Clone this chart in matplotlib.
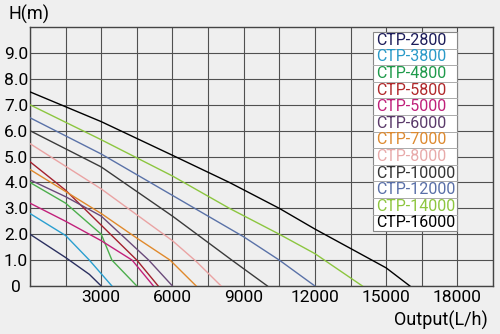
import matplotlib
matplotlib.use("Agg")
import matplotlib.pyplot as plt
from matplotlib.patches import Rectangle

plt.rcParams['font.family'] = ['Roboto', 'DejaVu Sans']

# pump curves: flow (L/h) vs head (m)
models = ["CTP-2800", "CTP-3800", "CTP-4800", "CTP-5800", "CTP-5000", "CTP-6000",
          "CTP-7000", "CTP-8000", "CTP-10000", "CTP-12000", "CTP-14000", "CTP-16000"]

flow_2800 = [0, 1500, 2500, 3000]
head_2800 = [2.0, 1.1, 0.45, 0]
flow_3800 = [0, 1500, 2500, 3450]
head_3800 = [2.8, 1.95, 1.0, 0]
flow_4800 = [0, 1500, 3000, 3450, 4500]
head_4800 = [4.0, 3.2, 2.0, 1.0, 0]
flow_5800 = [0, 1500, 3000, 4500, 5400]
head_5800 = [4.8, 3.7, 2.35, 1.0, 0]
flow_5000 = [0, 1500, 3000, 4300, 5200]
head_5000 = [3.2, 2.5, 1.75, 1.0, 0]
flow_6000 = [0, 1500, 3000, 5000, 6000]
head_6000 = [4.1, 3.45, 2.7, 1.0, 0]
flow_7000 = [0, 1500, 3000, 4500, 5900, 7000]
head_7000 = [4.5, 3.65, 2.8, 1.85, 1.0, 0]
flow_8000 = [0, 3000, 6000, 7000, 8050]
head_8000 = [5.5, 3.75, 1.75, 0.95, 0]
flow_10000 = [0, 3000, 6000, 8500, 10000]
head_10000 = [6.0, 4.6, 2.7, 1.0, 0]
flow_12000 = [0, 3000, 6000, 9000, 10500, 12000]
head_12000 = [6.5, 5.1, 3.5, 1.9, 1.0, 0]
flow_14000 = [0, 3000, 6000, 8400, 10500, 12000, 14000]
head_14000 = [7.0, 5.65, 4.25, 3.0, 2.0, 1.25, 0]
flow_16000 = [0, 3000, 6000, 8400, 10500, 12000, 13500, 15000, 16000]
head_16000 = [7.5, 6.35, 5.05, 4.0, 3.0, 2.2, 1.45, 0.7, 0]

flows = [flow_2800, flow_3800, flow_4800, flow_5800, flow_5000, flow_6000,
         flow_7000, flow_8000, flow_10000, flow_12000, flow_14000, flow_16000]
heads = [head_2800, head_3800, head_4800, head_5800, head_5000, head_6000,
         head_7000, head_8000, head_10000, head_12000, head_14000, head_16000]

x_ticks = [3000, 6000, 9000, 12000, 15000, 18000]
y_ticks = [0, 1, 2, 3, 4, 5, 6, 7, 8, 9]
y_labels = ["0", "1.0", "2.0", "3.0", "4.0", "5.0", "6.0", "7.0", "8.0", "9.0"]

line_colors = ["#2b3060", "#2a9fd0", "#4cae4c", "#a3202e", "#c2207a", "#6a4a7a",
               "#e0892c", "#eaa3a3", "#3a3a3a", "#5a72a8", "#8cc63f", "#000000"]
text_colors = ["#1c1c5a", "#2a9ac8", "#1e9a4a", "#b0282a", "#c0207a", "#5a3a6a",
               "#dd8a30", "#e8aaaa", "#333333", "#5a70a8", "#8ec63f", "#000000"]

bg = "#efefef"
fig = plt.figure(figsize=(5, 3.34), dpi=100, facecolor=bg)
ax = fig.add_axes([0.06, 0.1437, 0.926, 0.775], facecolor=bg)

for fl, hd, c in zip(flows, heads, line_colors):
    ax.plot(fl, hd, color=c, lw=1.0, zorder=3)

ax.set_xlim(0, 19500)
ax.set_ylim(0, 10)
ax.set_xticks(x_ticks)
ax.set_xticks(range(0, 19501, 1500), minor=True)
ax.set_yticks(y_ticks)
ax.set_yticklabels(y_labels)
ax.grid(True, which='both', color="#505050", lw=0.8)
ax.tick_params(which='both', length=0)
ax.tick_params(axis='x', labelsize=12.5, pad=3)
ax.tick_params(axis='y', labelsize=12.5, pad=10)
for lab in ax.get_yticklabels():
    lab.set_horizontalalignment('center')
for s in ax.spines.values():
    s.set_color("#444444")
    s.set_linewidth(1.0)

# legend drawn as a small table
left, right, top, bottom = 0.741, 0.922, 0.981, 0.212
row_h = (top - bottom) / len(models)
ax.add_patch(Rectangle((left, bottom), right - left, top - bottom, transform=ax.transAxes,
                       facecolor="white", edgecolor="#888888", lw=0.8, zorder=5))
for i, (m, c) in enumerate(zip(models, text_colors)):
    y0 = top - (i + 1) * row_h
    if i > 0:
        ax.plot([left, right], [y0 + row_h, y0 + row_h], transform=ax.transAxes,
                color="#aaaaaa", lw=0.7, zorder=6)
    ax.text(left + 0.006, y0 + row_h / 2, m, transform=ax.transAxes, color=c,
            fontsize=11.5, va='center', ha='left', zorder=7)

fig.text(8 / 500, 1 - 14 / 334, "H(m)", fontsize=13, va='center', ha='left')
fig.text(488 / 500, 1 - 320 / 334, "Output(L/h)", fontsize=13, va='center', ha='right')

fig.savefig("out.png", dpi=100, facecolor=bg)
